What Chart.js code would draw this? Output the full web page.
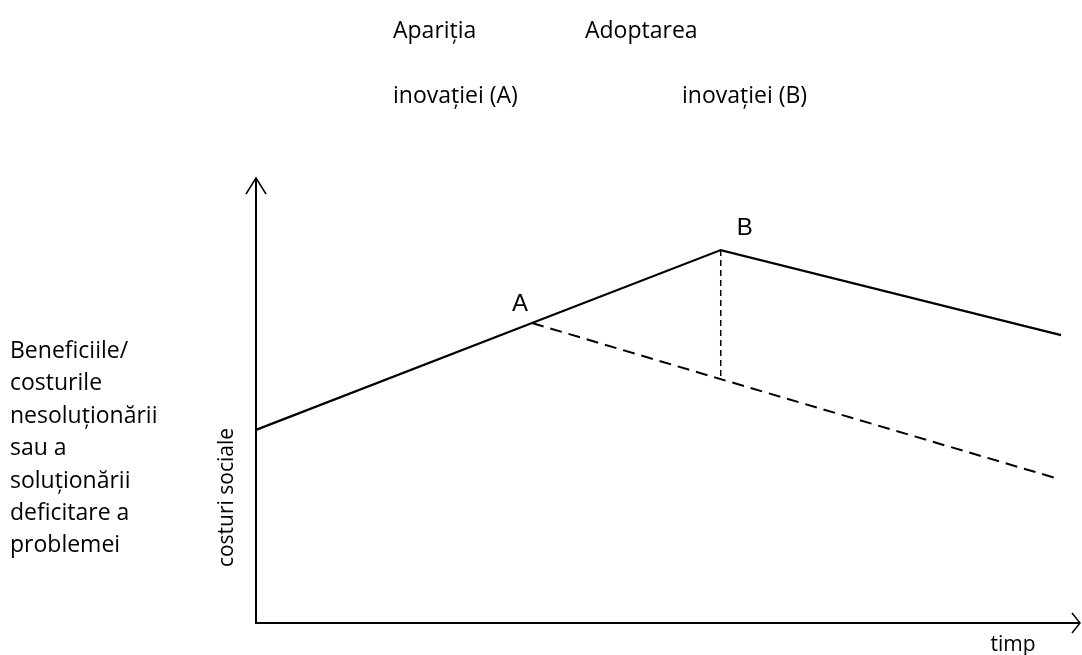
<!DOCTYPE html>
<html>
<head>
<meta charset="utf-8">
<script src="https://cdn.jsdelivr.net/npm/chart.js@4/dist/chart.umd.min.js"></script>
<style>
  html, body { margin: 0; padding: 0; background: #fff; }
  #wrap { width: 1082px; height: 655px; }
</style>
</head>
<body>
<div id="wrap"><canvas id="myChart" width="1082" height="655"></canvas></div>
<script>
// evolutia costurilor sociale in timp
const timp = [0, 33.5, 56.4, 97.7];
const costuri = [43.4, 67.4, 83.8, 64.7];
// fara adoptarea inovatiei, de la A incolo
const timpFaraB = [33.5, 56.4, 97.0];
const costuriFaraB = [67.4, 54.8, 32.6];
// diferenta la momentul B
const timpB = [56.4, 56.4];
const costuriB = [83.8, 54.8];

const puncte = [{ text: 'A', idx: 1, dx: -12, dy: -12 }, { text: 'B', idx: 2, dx: 24, dy: -15 }];

const textFont = '23px "Open Sans", sans-serif';
const axisFont = '21px "Open Sans", sans-serif';
const labelsLeft = ['Beneficiile/', 'costurile', 'nesoluționării', 'sau a', 'soluționării', 'deficitare a', 'problemei'];

function toXY(xs, ys) {
  return xs.map((x, i) => ({ x: x, y: ys[i] }));
}

const ctx = document.getElementById('myChart');

const diagramPlugin = {
  id: 'diagram',
  afterDraw(chart) {
    const c = chart.ctx;
    const sx = chart.scales.x, sy = chart.scales.y;
    const x0 = sx.getPixelForValue(0), y0 = sy.getPixelForValue(0);
    const xMax = sx.getPixelForValue(100), yMax = sy.getPixelForValue(100);
    c.save();
    c.strokeStyle = '#000';
    c.lineWidth = 2;
    // axe
    c.beginPath();
    c.moveTo(x0, yMax);
    c.lineTo(x0, y0);
    c.lineTo(xMax, y0);
    c.stroke();
    c.lineWidth = 1.5;
    c.beginPath();
    c.moveTo(x0 - 10, yMax + 16);
    c.lineTo(x0, yMax);
    c.lineTo(x0 + 10, yMax + 16);
    c.moveTo(xMax - 8, y0 - 10);
    c.lineTo(xMax, y0);
    c.lineTo(xMax - 8, y0 + 10);
    c.stroke();

    c.fillStyle = '#000';
    c.textBaseline = 'alphabetic';
    // etichete A, B
    c.font = '24px "Liberation Sans", Arial, sans-serif';
    c.textAlign = 'center';
    puncte.forEach(p => {
      const px = sx.getPixelForValue(timp[p.idx]);
      const py = sy.getPixelForValue(costuri[p.idx]);
      c.fillText(p.text, px + p.dx, py + p.dy);
    });

    c.font = textFont;
    c.textAlign = 'left';
    c.fillText('Apariția', 393, 38);
    c.fillText('inovației (A)', 393, 103);
    c.fillText('Adoptarea', 585, 38);
    c.fillText('inovației (B)', 682, 103);
    labelsLeft.forEach((t, i) => c.fillText(t, 10, 358 + i * 32.4));

    c.font = axisFont;
    c.textAlign = 'center';
    c.fillText('timp', 1013, 651);

    c.translate(233, 497.5);
    c.rotate(-Math.PI / 2);
    c.fillText('costuri sociale', 0, 0);
    c.restore();
  }
};

new Chart(ctx, {
  type: 'scatter',
  data: {
    datasets: [{
      data: toXY(timp, costuri),
      showLine: true,
      borderColor: '#000',
      borderWidth: 2.2,
      pointRadius: 0
    }, {
      data: toXY(timpFaraB, costuriFaraB),
      showLine: true,
      borderColor: '#000',
      borderWidth: 2,
      borderDash: [12, 7],
      pointRadius: 0
    }, {
      data: toXY(timpB, costuriB),
      showLine: true,
      borderColor: '#000',
      borderWidth: 1.5,
      borderDash: [6, 4],
      pointRadius: 0
    }]
  },
  options: {
    responsive: false,
    animation: false,
    clip: false,
    layout: { padding: { left: 256, right: 2, top: 178, bottom: 32 } },
    plugins: { legend: { display: false }, tooltip: { enabled: false } },
    scales: {
      x: { type: 'linear', min: 0, max: 100, display: false },
      y: { type: 'linear', min: 0, max: 100, display: false }
    }
  },
  plugins: [diagramPlugin]
});
</script>
</body>
</html>
